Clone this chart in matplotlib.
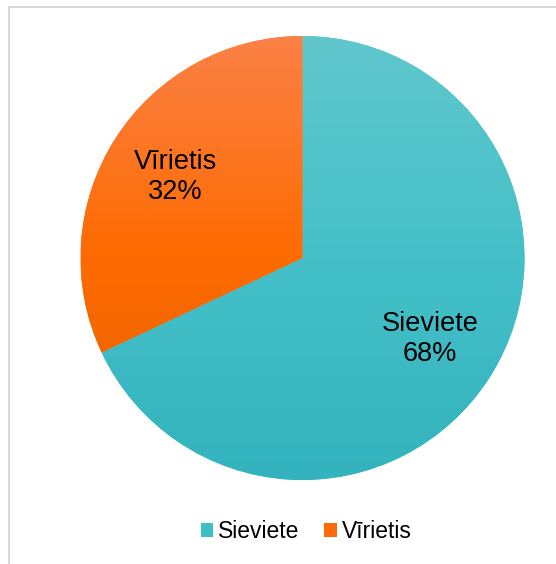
import matplotlib.pyplot as plt
import numpy as np
from matplotlib.colors import LinearSegmentedColormap
from matplotlib.patches import Rectangle

plt.rcParams['font.family'] = ['Liberation Sans', 'DejaVu Sans']

labels = ['Sieviete', 'Vīrietis']
values = [68, 32]
base_colors = ['#3DBFC8', '#FD6A08']
# gradient stops, bottom -> middle -> top
grad_colors = [('#33B3BE', '#45C0C8', '#60C7CD'), ('#E55F00', '#FE6B00', '#FB8147')]

fig = plt.figure(figsize=(5.56, 5.64), dpi=100)
ax = fig.add_axes([0, 0, 1, 1])

cx, cy, r = 302.5, 306, 222
wedges, texts, autotexts = ax.pie(values, colors=base_colors, startangle=90, counterclock=False,
                                  radius=r, center=(cx, cy), autopct='%1.0f%%', pctdistance=0.68,
                                  textprops={'fontsize': 19.5, 'color': 'black'},
                                  wedgeprops={'linewidth': 0})

# vertical gradient fill clipped to each wedge
grad = np.linspace(0, 1, 256).reshape(-1, 1)
for w, stops in zip(wedges, grad_colors):
    cmap = LinearSegmentedColormap.from_list('g', list(stops))
    im = ax.imshow(grad, cmap=cmap, extent=(cx - r, cx + r, cy - r, cy + r),
                   origin='lower', aspect='auto', zorder=1.5)
    im.set_clip_path(w)

for name, t in zip(labels, autotexts):
    t.set_text(name + '\n' + t.get_text())
    t.set_linespacing(1.2)
    t.set_zorder(3)

ax.set_xlim(0, 556)
ax.set_ylim(0, 564)
ax.axis('off')

# chart frame (cut by the picture edge)
ax.add_patch(Rectangle((8.5, -20), 600, 564 - 6.5 + 20, fill=False, edgecolor='#D9D9D9', linewidth=1.5))

leg = fig.legend(wedges, labels, loc='center', bbox_to_anchor=(306 / 556, 1 - 532 / 564),
                 ncol=2, frameon=False, fontsize=16.5, handlelength=0.55, handleheight=0.55,
                 handletextpad=0.2, columnspacing=1.1)
for t in leg.get_texts():
    t.set_color('black')

fig.savefig('out.png', dpi=100)
